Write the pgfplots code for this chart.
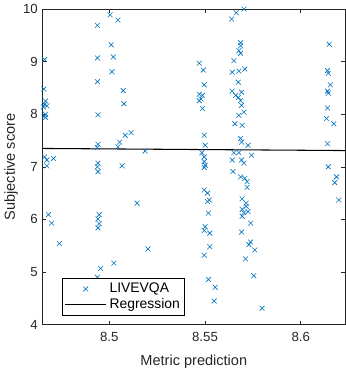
\documentclass[border=0pt]{standalone}
\usepackage{pgfplots}
\pgfplotsset{compat=1.18}
\usepackage{fontspec}
\setmainfont{Liberation Sans}
\definecolor{mblue}{RGB}{0,114,189}
\begin{document}
\begin{tikzpicture}
\begin{axis}[
  scale only axis,
  width=228.75pt, height=238.5pt,
  xmin=8.4651, xmax=8.6232, ymin=4, ymax=10,
  xtick={8.5,8.55,8.6}, ytick={4,5,6,7,8,9,10},
  xticklabels={8.5,8.55,8.6},
  tick align=inside, xtick pos=both, ytick pos=both,
  major tick length=3pt,
  axis line style={black!85, line width=0.5pt},
  tick style={black!85, line width=0.5pt},
  /pgf/number format/assume math mode=true,
  tick label style={font=\fontsize{10}{12}\selectfont, black!85},
  xticklabel style={yshift=-2.5pt},
  label style={font=\fontsize{11}{13}\selectfont, black!85},
  xlabel={Metric prediction}, ylabel={Subjective score},
  xlabel style={yshift=-3pt}, ylabel style={yshift=-3pt},
  legend style={at={(0.065,0.028)}, anchor=south west, draw=black, line width=0.5pt,
    font=\fontsize{10.5}{12}\selectfont, cells={anchor=west}, inner sep=1.5pt, row sep=-1pt},
  legend cell align=left,
]
\addplot[only marks, mark=x, mark size=2.6pt, color=mblue, line width=0.45pt,
  legend image code/.code={\draw[mblue, line width=0.45pt] plot[mark=x, mark size=2.6pt] coordinates {(0.55cm,0cm)};}]
coordinates {
(8.4662,9.04) (8.4658,8.48) (8.4667,8.25) (8.4662,8.19) (8.4674,8.16) (8.4656,8.14)
(8.4667,8.00) (8.4660,7.96) (8.4667,7.94) (8.4662,7.19) (8.4674,7.13) (8.4708,7.16)
(8.4674,7.02) (8.4682,6.09) (8.4699,5.93) (8.4739,5.54)
(8.4938,9.69) (8.4938,9.07) (8.4938,8.62) (8.4941,7.99) (8.4941,7.43) (8.4938,7.37)
(8.4941,7.07) (8.4938,7.00) (8.4941,6.91) (8.4947,6.09) (8.4941,6.01) (8.4947,5.92)
(8.4941,5.84) (8.4955,5.07) (8.4938,4.90)
(8.5004,9.89) (8.5045,9.79) (8.5010,9.32) (8.5021,9.09) (8.5014,8.81) (8.5073,8.45)
(8.5076,8.20) (8.5083,7.60) (8.5114,7.65) (8.5054,7.47) (8.5045,7.38) (8.5067,7.02)
(8.5024,5.17) (8.5145,6.31) (8.5202,5.44) (8.5187,7.30)
(8.5470,8.97) (8.5491,8.84) (8.5496,8.56) (8.5470,8.38) (8.5487,8.36) (8.5479,8.29)
(8.5470,8.26) (8.5487,8.11) (8.5496,7.60) (8.5501,7.41) (8.5484,7.27) (8.5496,7.19)
(8.5496,7.10) (8.5501,7.03) (8.5496,6.99) (8.5496,6.56) (8.5513,6.50) (8.5522,6.37)
(8.5513,6.34) (8.5518,6.12) (8.5501,5.86) (8.5496,5.79) (8.5525,5.74) (8.5525,5.48)
(8.5496,5.32) (8.5518,4.86) (8.5553,4.71) (8.5548,4.45)
(8.5639,9.81) (8.5663,9.93) (8.5703,10.0) (8.5686,9.36) (8.5686,9.30) (8.5677,9.21)
(8.5686,9.16) (8.5651,9.02) (8.5642,8.80) (8.5677,8.82) (8.5708,8.86) (8.5674,8.61)
(8.5642,8.44) (8.5660,8.36) (8.5674,8.32) (8.5691,8.42) (8.5686,8.26) (8.5691,8.17)
(8.5677,7.98) (8.5703,8.04) (8.5656,7.82) (8.5694,7.79) (8.5686,7.54) (8.5691,7.47)
(8.5725,7.41) (8.5651,7.27) (8.5677,7.27) (8.5642,7.13) (8.5691,7.13) (8.5703,7.07)
(8.5646,6.91) (8.5686,6.81) (8.5708,6.78) (8.5720,6.72) (8.5720,6.61) (8.5694,6.39)
(8.5715,6.31) (8.5694,6.19) (8.5703,6.13) (8.5715,6.25) (8.5694,6.06) (8.5725,6.15)
(8.5738,5.93) (8.5691,5.76) (8.5738,5.57) (8.5729,5.52) (8.5712,5.25) (8.5755,4.93)
(8.5729,3.98) (8.5798,4.31) (8.5760,5.42) (8.5743,7.22)
(8.6149,9.33) (8.6140,8.83) (8.6144,8.78) (8.6155,8.56) (8.6140,8.44) (8.6144,8.40)
(8.6140,8.12) (8.6135,7.92) (8.6173,7.82) (8.6140,7.44) (8.6144,7.00) (8.6187,6.81)
(8.6178,6.70) (8.6199,6.37)
};
\addlegendentry{LIVEVQA}
\addplot[black, line width=0.8pt,
  legend image code/.code={\draw[black, line width=0.8pt] (0cm,0cm) -- (1.1cm,0cm);}]
coordinates {(8.4651,7.35) (8.6232,7.31)};
\addlegendentry{Regression}
\end{axis}
\end{tikzpicture}
\end{document}
